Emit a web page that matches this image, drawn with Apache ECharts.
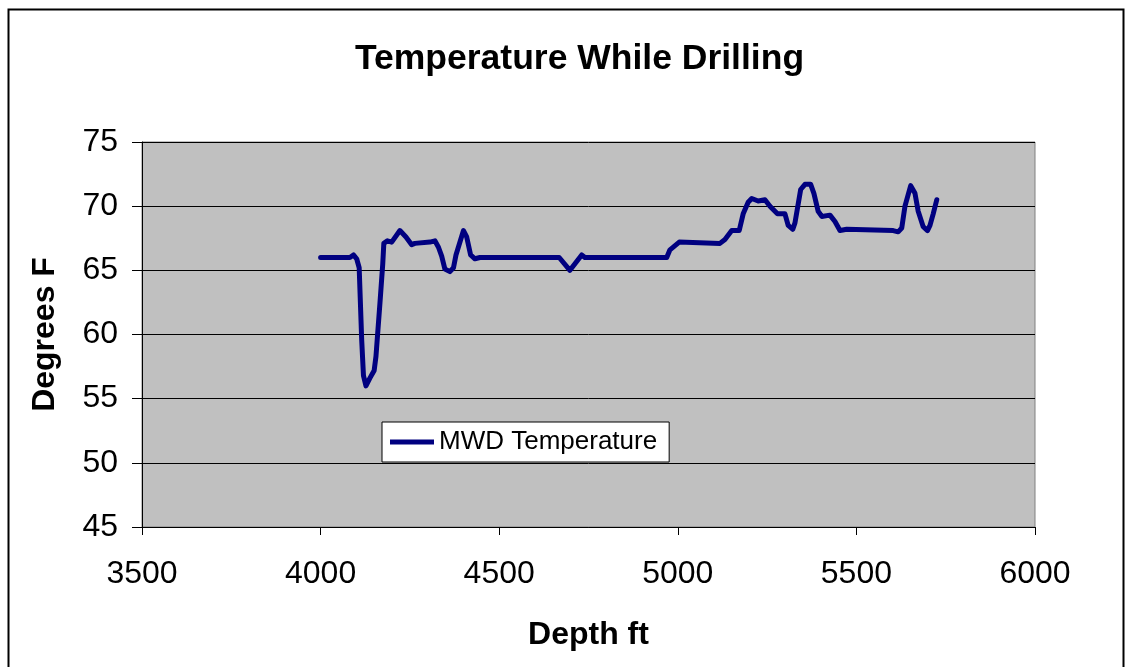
<!DOCTYPE html>
<html>
<head>
<meta charset="utf-8">
<script src="https://cdn.jsdelivr.net/npm/echarts@6/dist/echarts.min.js"></script>
<style>
  html, body { margin: 0; padding: 0; background: #ffffff; }
  #chart { width: 1131px; height: 667px; }
</style>
</head>
<body>
<div id="chart"></div>
<script>
// MWD temperature log: measured depth (ft) and temperature (°F)
const depthFt = [
  4000, 4082, 4092, 4101, 4108, 4115, 4120, 4127, 4138, 4150,
  4155, 4166, 4174, 4177, 4187, 4199, 4222, 4239, 4255, 4264,
  4306, 4320, 4330, 4339, 4348, 4362, 4372, 4379, 4400, 4409,
  4420, 4432, 4446, 4668, 4698, 4731, 4740, 4969, 4978, 5004,
  5118, 5132, 5151, 5172, 5183, 5197, 5207, 5225, 5244, 5258,
  5279, 5300, 5309, 5322, 5328, 5344, 5356, 5372, 5381, 5393,
  5403, 5426, 5440, 5454, 5473, 5603, 5617, 5627, 5636, 5652,
  5664, 5673, 5687, 5699, 5706, 5715, 5725
];
const tempF = [
  66.0, 66.0, 66.2, 65.9, 65.2, 59.6, 56.8, 56.0, 56.6, 57.2,
  58.3, 62.4, 65.5, 67.1, 67.3, 67.2, 68.1, 67.6, 67.0, 67.1,
  67.2, 67.3, 66.8, 66.1, 65.1, 64.9, 65.2, 66.2, 68.1, 67.6,
  66.2, 65.9, 66.0, 66.0, 65.0, 66.2, 66.0, 66.0, 66.6, 67.2,
  67.1, 67.4, 68.1, 68.1, 69.4, 70.3, 70.6, 70.4, 70.5, 70.0,
  69.4, 69.4, 68.5, 68.2, 68.7, 71.3, 71.7, 71.7, 71.0, 69.6,
  69.2, 69.3, 68.8, 68.1, 68.2, 68.1, 68.0, 68.3, 70.0, 71.6,
  71.0, 69.6, 68.4, 68.1, 68.5, 69.4, 70.5
];
const seriesName = 'MWD Temperature';
const chartTitle = 'Temperature While Drilling';
const xAxisTitle = 'Depth ft';
const yAxisTitle = 'Degrees F';

const points = depthFt.map((d, i) => [d, tempF[i]]);
const FONT = '"Liberation Sans", Arial, sans-serif';

const chart = echarts.init(document.getElementById('chart'), null, { renderer: 'canvas' });
chart.setOption({
  backgroundColor: '#ffffff',
  animation: false,
  graphic: [{
    type: 'rect',
    left: 6, top: 7,
    shape: { width: 1115, height: 700 },
    style: { fill: 'none', stroke: '#000000', lineWidth: 2 },
    silent: true
  }],
  title: {
    text: chartTitle,
    left: 350,
    top: 36,
    textStyle: { fontFamily: FONT, fontSize: 35.5, fontWeight: 'bold', color: '#000000' }
  },
  legend: {
    data: [seriesName],
    left: 382, top: 422,
    orient: 'horizontal',
    backgroundColor: '#ffffff',
    borderColor: '#000000',
    borderWidth: 1,
    borderRadius: 0,
    padding: [7, 12, 7, 8],
    itemWidth: 44, itemHeight: 5,
    itemGap: 6,
    icon: 'rect',
    textStyle: { fontFamily: FONT, fontSize: 26, color: '#000000' }
  },
  grid: {
    left: 142, right: 96, top: 142, bottom: 140,
    show: true,
    backgroundColor: '#c0c0c0',
    borderColor: '#808080',
    borderWidth: 1
  },
  xAxis: {
    type: 'value',
    min: 3500, max: 6000, interval: 500,
    name: xAxisTitle,
    nameLocation: 'middle',
    nameGap: 92,
    nameTextStyle: { fontFamily: FONT, fontSize: 32, fontWeight: 'bold', color: '#000000' },
    axisLine: { show: true, lineStyle: { color: '#000000', width: 1 } },
    axisTick: { show: true, length: 8, lineStyle: { color: '#000000' } },
    axisLabel: {
      fontFamily: FONT, fontSize: 32, color: '#000000', margin: 31,
      formatter: v => String(v)
    },
    splitLine: { show: false }
  },
  yAxis: {
    type: 'value',
    min: 45, max: 75, interval: 5,
    name: yAxisTitle,
    nameLocation: 'middle',
    nameGap: 81,
    nameRotate: 90,
    nameTextStyle: { fontFamily: FONT, fontSize: 32, fontWeight: 'bold', color: '#000000' },
    axisLine: { show: true, lineStyle: { color: '#000000', width: 1 } },
    axisTick: { show: true, length: 10, lineStyle: { color: '#000000' } },
    axisLabel: {
      fontFamily: FONT, fontSize: 32, color: '#000000', margin: 24,
      formatter: v => String(v)
    },
    splitLine: { show: true, lineStyle: { color: '#000000', width: 1 } }
  },
  series: [{
    name: seriesName,
    type: 'line',
    data: points,
    showSymbol: false,
    symbol: 'none',
    smooth: false,
    lineStyle: { color: '#000080', width: 5, cap: 'round', join: 'round' },
    itemStyle: { color: '#000080' }
  }]
});
</script>
</body>
</html>
